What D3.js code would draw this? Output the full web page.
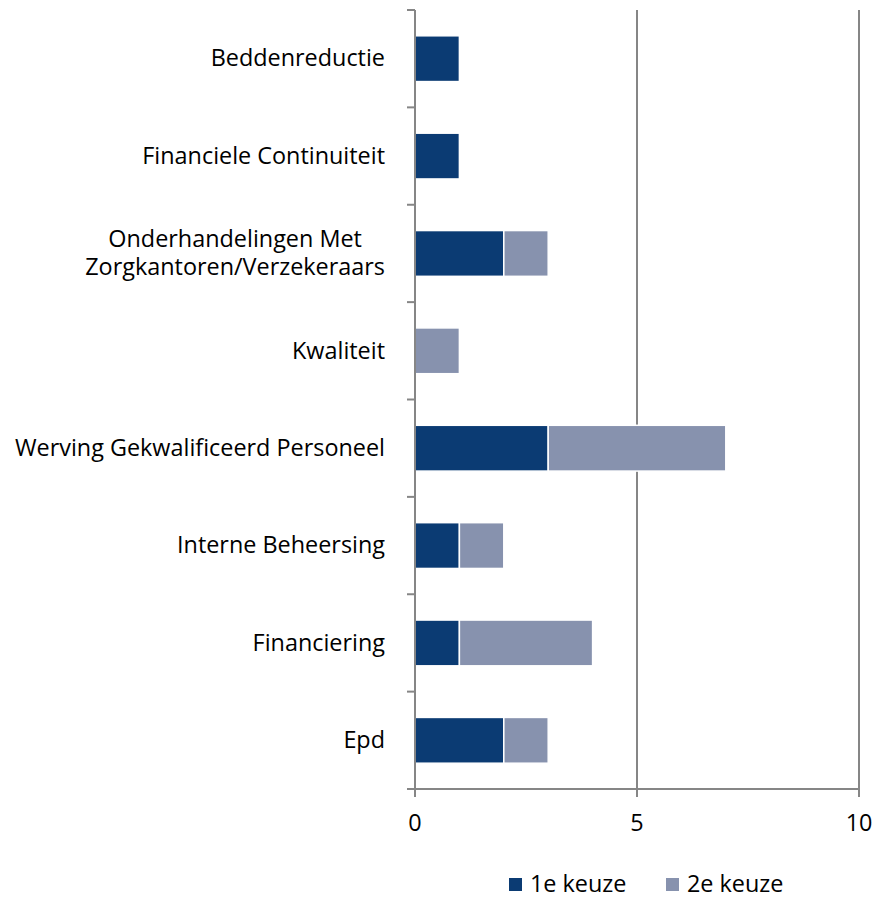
<!DOCTYPE html>
<html><head><meta charset="utf-8">
<script src="https://cdn.jsdelivr.net/npm/d3@7"></script>
<style>body{margin:0;background:#fff}svg{display:block}text{font-family:"Open Sans",sans-serif;fill:#000;font-variant-ligatures:none}</style>
</head><body>
<script>
const categories = ["Beddenreductie","Financiele Continuiteit","Onderhandelingen Met\nZorgkantoren/Verzekeraars","Kwaliteit","Werving Gekwalificeerd Personeel","Interne Beheersing","Financiering","Epd"];
const keuze1 = [1,1,2,0,3,1,1,2];
const keuze2 = [0,0,1,1,4,1,3,1];
const seriesNames = ["1e keuze","2e keuze"];
const colors = ["#0B3B73","#8792AE"];
const xTicks = [0,5,10];

const W=873,H=900;
const m={left:415,right:14,top:10,bottom:111};
const svg=d3.select("body").append("svg").attr("width",W).attr("height",H);
const x=d3.scaleLinear().domain([0,10]).range([m.left,W-m.right]);
const y=d3.scaleBand().domain(categories).range([m.top,H-m.bottom]).paddingInner(0.53).paddingOuter(0.265);
const band=d3.scaleBand().domain(categories).range([m.top,H-m.bottom]);
const grey="#868686";
const FS=23.4;
// gridlines
svg.append("g").selectAll("line").data(xTicks.slice(1)).join("line")
 .attr("x1",d=>x(d)).attr("x2",d=>x(d)).attr("y1",m.top).attr("y2",H-m.bottom)
 .attr("stroke",grey).attr("stroke-width",2);
// bars
const data=categories.map((c,i)=>({c,v:[keuze1[i],keuze2[i]]}));
const stack=d3.stack().keys([0,1]).value((d,k)=>d.v[k])(data);
svg.append("g").selectAll("g").data(stack).join("g").attr("fill",(d,i)=>colors[i])
 .selectAll("rect").data(d=>d.filter(p=>p[1]-p[0]>0)).join("rect")
 .attr("x",d=>x(d[0])).attr("width",d=>x(d[1])-x(d[0]))
 .attr("y",d=>y(d.data.c)).attr("height",y.bandwidth())
 .attr("stroke","#fff").attr("stroke-width",1.5);
// y axis
const ya=svg.append("g");
ya.append("line").attr("x1",m.left).attr("x2",m.left).attr("y1",m.top).attr("y2",H-m.bottom).attr("stroke",grey).attr("stroke-width",2);
const yt=categories.map(c=>band(c)).concat([H-m.bottom]);
ya.selectAll(".t").data(yt).join("line").attr("x1",m.left-8).attr("x2",m.left).attr("y1",d=>d).attr("y2",d=>d).attr("stroke",grey).attr("stroke-width",2);
const labelRight=m.left-30;
ya.selectAll("text").data(categories).join("text")
 .attr("font-size",FS)
 .each(function(c){
   const lines=c.split("\n"); const cy=band(c)+band.bandwidth()/2; const lh=27.5;
   const t=d3.select(this);
   if(lines.length===1){
     t.attr("text-anchor","end").attr("x",labelRight).attr("y",cy).attr("dy","0.33em").text(c);
   } else {
     t.attr("text-anchor","middle");
     const sp=lines.map((l,i)=>t.append("tspan").attr("y",cy+(i-(lines.length-1)/2)*lh).attr("dy","0.33em").text(l));
     const wmax=d3.max(sp,s=>s.node().getComputedTextLength());
     sp.forEach(s=>s.attr("x",labelRight-wmax/2));
   }
 });
// x axis
const xa=svg.append("g");
xa.append("line").attr("x1",m.left-8).attr("x2",W-m.right).attr("y1",H-m.bottom).attr("y2",H-m.bottom).attr("stroke",grey).attr("stroke-width",2);
xa.selectAll("line.t").data(xTicks).join("line").attr("class","t").attr("x1",d=>x(d)).attr("x2",d=>x(d)).attr("y1",H-m.bottom).attr("y2",H-m.bottom+8).attr("stroke",grey).attr("stroke-width",2);
xa.selectAll("text").data(xTicks).join("text").attr("x",d=>x(d)).attr("y",831).attr("text-anchor","middle").attr("font-size",FS).text(d=>d);
// legend
const lg=svg.append("g");
const lx=[509,666];
seriesNames.forEach((s,i)=>{
  lg.append("rect").attr("x",lx[i]).attr("y",878).attr("width",13).attr("height",13).attr("fill",colors[i]);
  lg.append("text").attr("x",lx[i]+21).attr("y",892).attr("font-size",FS).text(s);
});
</script>
</body></html>
